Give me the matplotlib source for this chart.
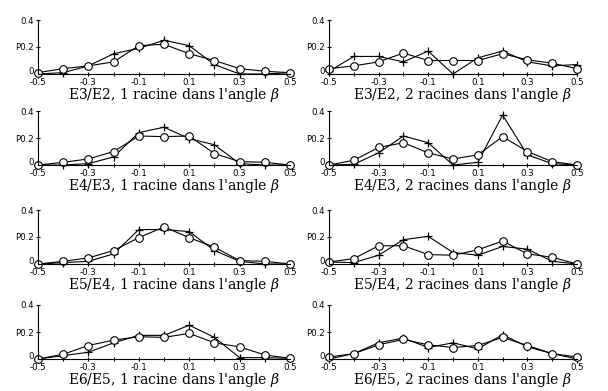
import numpy as np
import matplotlib
matplotlib.use("Agg")
import matplotlib.pyplot as plt
import matplotlib.transforms as mtransforms

# beta values (x axis)
beta = [-0.5, -0.4, -0.3, -0.2, -0.1, 0.0, 0.1, 0.2, 0.3, 0.4, 0.5]

# "+" series and "o" series for each panel
plus_e3e2_1 = [0.0, 0.01, 0.06, 0.15, 0.19, 0.25, 0.21, 0.07, 0.0, 0.0, 0.01]
circ_e3e2_1 = [0.01, 0.04, 0.06, 0.09, 0.21, 0.22, 0.15, 0.10, 0.04, 0.02, 0.01]
plus_e3e2_2 = [0.02, 0.13, 0.13, 0.09, 0.17, 0.0, 0.12, 0.17, 0.09, 0.06, 0.07]
circ_e3e2_2 = [0.04, 0.06, 0.09, 0.155, 0.10, 0.10, 0.10, 0.15, 0.105, 0.08, 0.04]

plus_e4e3_1 = [0.0, 0.0, 0.01, 0.06, 0.24, 0.28, 0.195, 0.15, 0.01, 0.0, 0.0]
circ_e4e3_1 = [0.0, 0.02, 0.045, 0.10, 0.215, 0.21, 0.215, 0.085, 0.025, 0.02, 0.0]
plus_e4e3_2 = [0.0, 0.005, 0.09, 0.215, 0.165, 0.0, 0.02, 0.37, 0.075, 0.01, 0.0]
circ_e4e3_2 = [0.0, 0.035, 0.13, 0.165, 0.09, 0.045, 0.075, 0.21, 0.10, 0.025, 0.0]

plus_e5e4_1 = [0.0, 0.01, 0.02, 0.075, 0.255, 0.255, 0.24, 0.10, 0.02, 0.0, 0.0]
circ_e5e4_1 = [0.0, 0.02, 0.045, 0.10, 0.195, 0.275, 0.195, 0.125, 0.025, 0.02, 0.0]
plus_e5e4_2 = [0.015, 0.01, 0.065, 0.18, 0.205, 0.085, 0.065, 0.13, 0.11, 0.02, 0.0]
circ_e5e4_2 = [0.015, 0.04, 0.135, 0.135, 0.07, 0.065, 0.105, 0.17, 0.075, 0.05, 0.0]

plus_e6e5_1 = [0.0, 0.025, 0.05, 0.12, 0.175, 0.175, 0.25, 0.16, 0.01, 0.01, 0.005]
circ_e6e5_1 = [0.0, 0.035, 0.10, 0.14, 0.165, 0.16, 0.19, 0.12, 0.09, 0.03, 0.005]
plus_e6e5_2 = [0.0, 0.04, 0.12, 0.155, 0.085, 0.12, 0.075, 0.18, 0.09, 0.04, 0.0]
circ_e6e5_2 = [0.015, 0.04, 0.105, 0.145, 0.105, 0.085, 0.10, 0.16, 0.10, 0.04, 0.015]

titles = ["E3/E2, 1 racine dans l'angle $\\beta$", "E3/E2, 2 racines dans l'angle $\\beta$",
          "E4/E3, 1 racine dans l'angle $\\beta$", "E4/E3, 2 racines dans l'angle $\\beta$",
          "E5/E4, 1 racine dans l'angle $\\beta$", "E5/E4, 2 racines dans l'angle $\\beta$",
          "E6/E5, 1 racine dans l'angle $\\beta$", "E6/E5, 2 racines dans l'angle $\\beta$"]
plus_series = [plus_e3e2_1, plus_e3e2_2, plus_e4e3_1, plus_e4e3_2,
               plus_e5e4_1, plus_e5e4_2, plus_e6e5_1, plus_e6e5_2]
circ_series = [circ_e3e2_1, circ_e3e2_2, circ_e4e3_1, circ_e4e3_2,
               circ_e5e4_1, circ_e5e4_2, circ_e6e5_1, circ_e6e5_2]

plt.rcParams["mathtext.fontset"] = "dejavuserif"

W, H = 608, 391
fig = plt.figure(figsize=(W / 100, H / 100), dpi=100)

col_x = [(38, 252), (329, 248)]     # left px, width px
row_y0 = [74, 165, 264, 359]        # pixel row of y=0
ax_h = 54
nudge = mtransforms.ScaledTranslation(0, 2.5 / 72, fig.dpi_scale_trans)

for i in range(8):
    r, c = divmod(i, 2)
    left, width = col_x[c]
    ax = fig.add_axes([left / W, 1 - row_y0[r] / H, width / W, ax_h / H])
    ax.plot(beta, plus_series[i], color="black", lw=0.8, marker="+",
            ms=6, mew=0.9, clip_on=False)
    ax.plot(beta, circ_series[i], color="black", lw=0.8, marker="o",
            ms=5.5, mfc="white", mec="black", mew=0.8, clip_on=False)
    ax.set_xlim(-0.5, 0.5)
    ax.set_ylim(0, 0.4)
    for s in ["top", "right"]:
        ax.spines[s].set_visible(False)
    ax.spines["left"].set_linewidth(0.8)
    ax.spines["bottom"].set_linewidth(0.8)
    ax.set_xticks([-0.5, -0.3, -0.1, 0.1, 0.3, 0.5])
    ax.set_xticklabels(["-0.5", "-0.3", "-0.1", "0.1", "0.3", "0.5"])
    ax.set_xticks([-0.4, -0.2, 0.0, 0.2, 0.4], minor=True)
    ax.set_yticks([0, 0.2, 0.4])
    ax.set_yticklabels(["0", "P0.2", "0.4"])
    ax.tick_params(which="both", direction="inout", length=3.5, width=0.8,
                   labelsize=6.2, pad=1)
    zero_lbl = ax.yaxis.get_ticklabels()[0]
    zero_lbl.set_transform(zero_lbl.get_transform() + nudge)
    ax.set_xlabel(titles[i], family="DejaVu Serif", fontsize=10)
    ax.xaxis.set_label_coords(0.54, -0.22)
    ax.xaxis.label.set_verticalalignment("top")

fig.savefig("out.png", dpi=100, facecolor="white")
